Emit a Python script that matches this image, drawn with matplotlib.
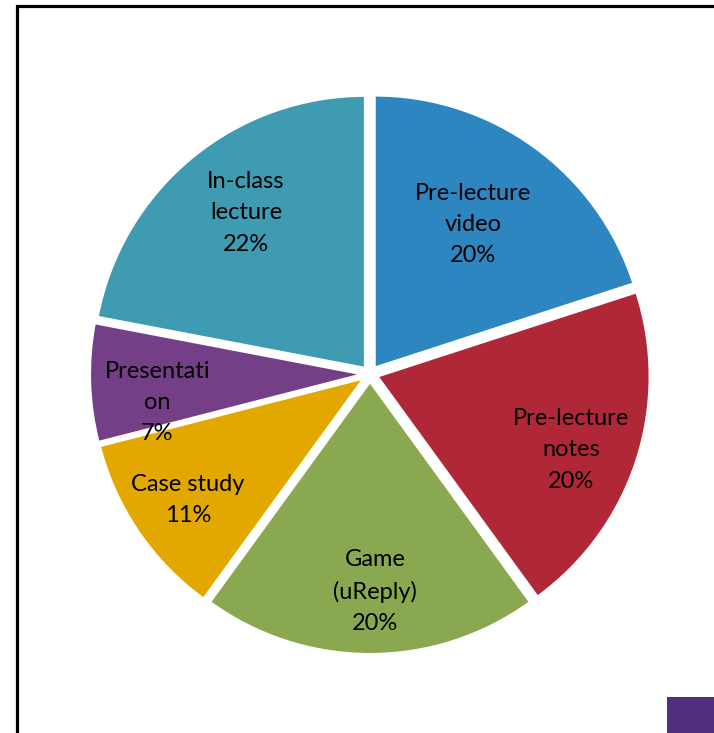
import numpy as np
import matplotlib.pyplot as plt
from matplotlib.patches import Rectangle

# Data
categories = ["Pre-lecture\nvideo", "Pre-lecture\nnotes", "Game\n(uReply)",
              "Case study", "Presentati\non", "In-class\nlecture"]
percentages = [20, 20, 20, 11, 7, 22]
colors = ["#2E86C1", "#B02838", "#8AA84F", "#E3A800", "#743F86", "#3E9BB2"]

# label placement: radial fraction plus a small pixel nudge (dx, dy with y down)
label_frac = [0.66, 0.72, 0.77, 0.77, 0.76, 0.72]
label_nudge = [(-7, 2), (7, 13), (5, 0), (-2, 4), (2, 22), (6, -4)]

W, H = 714, 733
fig = plt.figure(figsize=(W / 100, H / 100), dpi=100)
ax = fig.add_axes([0, 0, 1, 1])

cx, cy, r = 370, H - 374, 272
wedges, _ = ax.pie(percentages, colors=colors, startangle=90, counterclock=False,
                   radius=r, center=(cx, cy), explode=[8] * len(percentages),
                   wedgeprops=dict(edgecolor="white", linewidth=1.5), frame=True)
ax.set_xlim(0, W)
ax.set_ylim(0, H)
ax.set_aspect("equal")
ax.axis("off")

for w, cat, pct, f, (dx, dy) in zip(wedges, categories, percentages, label_frac, label_nudge):
    th = np.deg2rad((w.theta1 + w.theta2) / 2)
    x = w.center[0] + f * w.r * np.cos(th) + dx
    y = w.center[1] + f * w.r * np.sin(th) - dy
    ax.text(x, y, f"{cat}\n{pct}%", ha="center", va="center", fontsize=17,
            family="Lato", linespacing=1.6, color="black")

# chart frame (cropped) and cropped legend key
ax.add_patch(Rectangle((17, -50), 800, H - 6 + 50, fill=False,
                       edgecolor="black", linewidth=2.3, clip_on=False))
ax.add_patch(Rectangle((667, -20), 80, H - 697 + 20, facecolor="#512E7E",
                       edgecolor="none"))

fig.savefig("out.png", dpi=100)
